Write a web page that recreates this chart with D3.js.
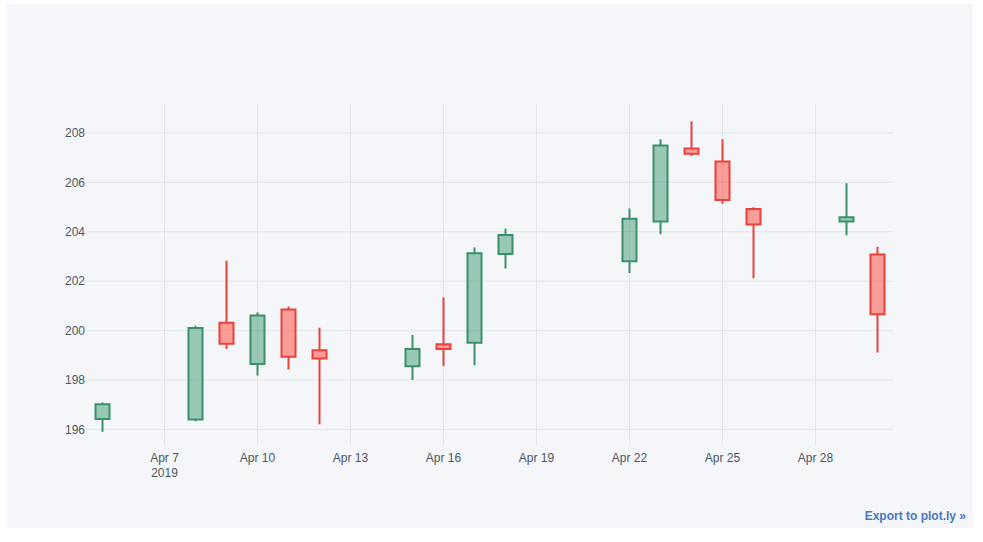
<!DOCTYPE html>
<html>
<head>
<meta charset="utf-8">
<script src="https://cdn.jsdelivr.net/npm/d3@7"></script>
<style>
  html, body { margin: 0; padding: 0; background: #ffffff; }
  svg { display: block; }
</style>
</head>
<body>
<svg id="chart" width="983" height="542"></svg>
<script>
const dates = ["2019-04-05","2019-04-08","2019-04-09","2019-04-10","2019-04-11","2019-04-12",
               "2019-04-15","2019-04-16","2019-04-17","2019-04-18","2019-04-22","2019-04-23",
               "2019-04-24","2019-04-25","2019-04-26","2019-04-29","2019-04-30"];
const openVals  = [196.42, 196.40, 200.32, 198.65, 200.85, 199.20, 198.56, 199.45, 199.51, 203.10, 202.81, 204.41, 207.37, 206.84, 204.92, 204.41, 203.08];
const highVals  = [197.09, 200.20, 202.83, 200.73, 200.97, 200.12, 199.82, 201.35, 203.36, 204.13, 204.94, 207.74, 208.47, 207.74, 204.99, 205.96, 203.39];
const lowVals   = [195.91, 196.33, 199.25, 198.18, 198.43, 196.21, 198.00, 198.57, 198.60, 202.51, 202.33, 203.90, 207.07, 205.13, 202.12, 203.86, 199.11];
const closeVals = [197.02, 200.10, 199.47, 200.61, 198.94, 198.87, 199.25, 199.25, 203.13, 203.87, 204.53, 207.49, 207.16, 205.28, 204.29, 204.59, 200.66];

const xTickDates  = ["2019-04-07","2019-04-10","2019-04-13","2019-04-16","2019-04-19","2019-04-22","2019-04-25","2019-04-28"];
const xTickLabels = ["Apr 7","Apr 10","Apr 13","Apr 16","Apr 19","Apr 22","Apr 25","Apr 28"];
const xTickSub    = ["2019","","","","","","",""];
const yTicks = [196, 198, 200, 202, 204, 206, 208];

const parse = d3.utcParse("%Y-%m-%d");
const data = dates.map((d, i) => ({
  date: parse(d), open: openVals[i], high: highVals[i], low: lowVals[i], close: closeVals[i]
}));

const svg = d3.select("#chart");
const plot = { left: 87, right: 893, top: 104, bottom: 445 };

// paper background
svg.append("rect").attr("x", 7).attr("y", 4).attr("width", 966).attr("height", 524).attr("fill", "#F5F6F9");

const DAY = 86400000;
const x = d3.scaleUtc()
  .domain([new Date(parse("2019-04-05").getTime() - DAY / 2), new Date(parse("2019-04-30").getTime() + DAY / 2)])
  .range([plot.left, plot.right]);
const y = d3.scaleLinear().domain([195.37, 209.17]).range([plot.bottom, plot.top]);

const grid = svg.append("g");
grid.selectAll("line.h").data(yTicks).enter().append("line")
  .attr("x1", plot.left).attr("x2", plot.right)
  .attr("y1", d => y(d)).attr("y2", d => y(d))
  .attr("stroke", "#E1E5ED").attr("stroke-width", 1);
const xt = xTickDates.map(parse);
grid.selectAll("line.v").data(xt).enter().append("line")
  .attr("x1", d => x(d)).attr("x2", d => x(d))
  .attr("y1", plot.top).attr("y2", plot.bottom)
  .attr("stroke", "#E1E5ED").attr("stroke-width", 1);

svg.append("g").selectAll("text").data(yTicks).enter().append("text")
  .attr("x", plot.left - 2).attr("y", d => y(d)).attr("dy", "0.35em")
  .attr("text-anchor", "end")
  .attr("font-family", "Arial, 'Liberation Sans', sans-serif").attr("font-size", 12)
  .attr("fill", "#4D5663").text(d => d);

const xl = svg.append("g");
xt.forEach((d, i) => {
  xl.append("text").attr("x", x(d)).attr("y", 462)
    .attr("text-anchor", "middle")
    .attr("font-family", "Arial, 'Liberation Sans', sans-serif").attr("font-size", 12)
    .attr("fill", "#4D5663").text(xTickLabels[i]);
  if (xTickSub[i]) {
    xl.append("text").attr("x", x(d)).attr("y", 477)
      .attr("text-anchor", "middle")
      .attr("font-family", "Arial, 'Liberation Sans', sans-serif").attr("font-size", 12)
      .attr("fill", "#4D5663").text(xTickSub[i]);
  }
});

const halfW = (x(new Date(DAY)) - x(new Date(0))) * 0.226;
const incLine = "#3A9069", incFill = "rgba(61,153,112,0.5)";
const decLine = "#E8423A", decFill = "rgba(255,65,54,0.5)";
const candles = svg.append("g");
data.forEach(d => {
  const inc = d.close >= d.open;
  const cx = x(d.date);
  const yTop = y(Math.max(d.open, d.close));
  const yBot = y(Math.min(d.open, d.close));
  const p = `M${cx - halfW},${yBot}H${cx + halfW}V${yTop}H${cx - halfW}Z` +
            `M${cx},${yBot}V${y(d.low)}M${cx},${yTop}V${y(d.high)}`;
  candles.append("path").attr("d", p)
    .attr("fill", inc ? incFill : decFill)
    .attr("stroke", inc ? incLine : decLine)
    .attr("stroke-width", 2);
});

svg.append("text").attr("x", 966).attr("y", 520).attr("text-anchor", "end")
  .attr("font-family", "Arial, 'Liberation Sans', sans-serif").attr("font-size", 12).attr("font-weight", "bold")
  .attr("fill", "#4a78c2").text("Export to plot.ly \u00bb");
</script>
</body>
</html>
